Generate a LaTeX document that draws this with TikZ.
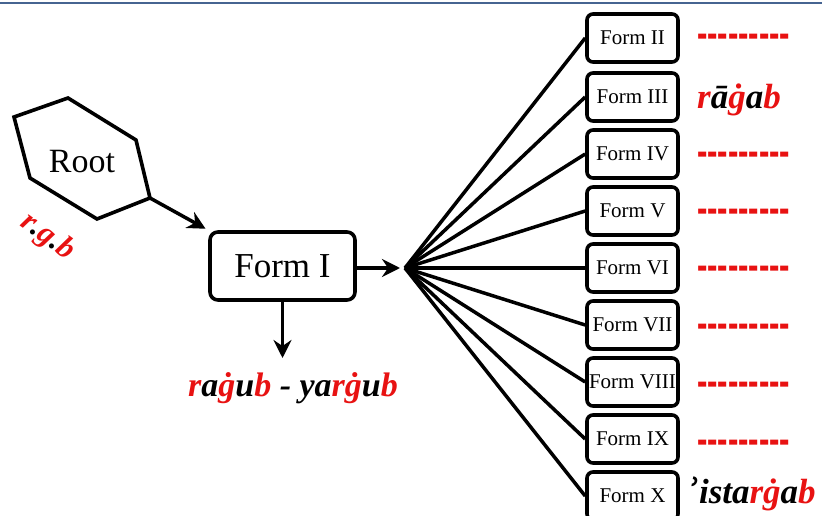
\documentclass[tikz,border=0pt]{standalone}
\usepackage{fontspec}
\setmainfont{Liberation Serif}
\newfontfamily\djs{DejaVu Serif}
\usetikzlibrary{arrows.meta}
\definecolor{topblue}{RGB}{70,100,145}
\definecolor{rred}{RGB}{232,18,18}
\newcommand\R[1]{\textcolor{rred}{#1}}
\newcommand\hy{-\kern0pt}
\newcommand\dashrow{\scalebox{1}[1.9]{\hy\hy\hy\hy\hy\hy\hy\hy\hy}}
\begin{document}
\begin{tikzpicture}[x=1pt,y=-1pt,
  formbox/.style={draw,line width=3.6pt,rounded corners=6pt,minimum width=91pt,minimum height=48pt,inner sep=0pt,font=\fontsize{21}{21}\selectfont},
  conn/.style={line width=3.5pt},
  arr/.style={line width=3.5pt,-{Stealth[length=18pt,width=18pt,inset=6pt]}},
  dashlbl/.style={anchor=west,text=rred,font=\fontsize{31}{31}\selectfont\bfseries,inner sep=0pt},
  wordlbl/.style={anchor=west,font=\fontsize{35}{35}\selectfont\bfseries\itshape,inner sep=0pt}]
\useasboundingbox (0,0) rectangle (822,516);
\draw[topblue,line width=2pt] (0,3) -- (822,3);
% Root hexagon
\coordinate (h1) at (14,117);
\coordinate (h2) at (68,98);
\coordinate (h3) at (136,140);
\coordinate (h4) at (150,198);
\coordinate (h5) at (97,219);
\coordinate (h6) at (30,178);
\draw[line width=3.6pt,line join=miter] (h1) -- (h2) -- (h3) -- (h4) -- (h5) -- (h6) -- cycle;
\node (root) at (82,162) {\fontsize{34}{34}\selectfont Root};
\node[rotate=-36,text=rred,font=\fontsize{31}{31}\selectfont\bfseries\itshape,inner sep=0pt] (rgb) at (48,237) {r\textcolor{black}{.}g\textcolor{black}{.}b};
% Form I
\node[draw,line width=3.6pt,rounded corners=8pt,minimum width=145pt,minimum height=68pt,inner sep=0pt,font=\fontsize{35}{35}\selectfont] (f1) at (282.5,266) {Form I};
\draw[arr,shorten >=3pt] (h4) -- (f1.north west);
\coordinate (fan) at (405,268);
\draw[arr,shorten >=5pt] (f1.east |- fan) -- (fan);
\coordinate (dn) at (282.5,358);
\draw[arr] (f1.south) -- (dn);
\node[font=\fontsize{34}{34}\selectfont\bfseries\itshape] (t1) at (293,388) {\R{r}a\R{ġ}u\R{b} - ya\R{rġ}u\R{b}};
% right boxes
\node[formbox] (f2) at (632.5,38) {Form II};
\node[formbox] (f3) at (632.5,97) {Form III};
\node[formbox] (f4) at (632.5,154) {Form IV};
\node[formbox] (f5) at (632.5,211) {Form V};
\node[formbox] (f6) at (632.5,268) {Form VI};
\node[formbox] (f7) at (632.5,325) {Form VII};
\node[formbox] (f8) at (632.5,382) {Form VIII};
\node[formbox] (f9) at (632.5,439) {Form IX};
\node[formbox] (f10) at (632.5,496) {Form X};
\foreach \i in {2,...,10} {\draw[conn] (fan) -- (f\i.west);}
% labels
\node[dashlbl] (d2) at (697,42) {\dashrow};
\node[wordlbl] (w3) at (697,100) {\R{r}ā\R{ġ}a\R{b}};
\node[dashlbl] (d4) at (697,160) {\dashrow};
\node[dashlbl] (d5) at (697,217) {\dashrow};
\node[dashlbl] (d6) at (697,274) {\dashrow};
\node[dashlbl] (d7) at (697,332) {\dashrow};
\node[dashlbl] (d8) at (697,390) {\dashrow};
\node[dashlbl] (d9) at (697,448) {\dashrow};
\node[wordlbl] (w10) at (686,494) {{\djs ʾ}ista\R{rġ}a\R{b}};
\end{tikzpicture}
\end{document}
